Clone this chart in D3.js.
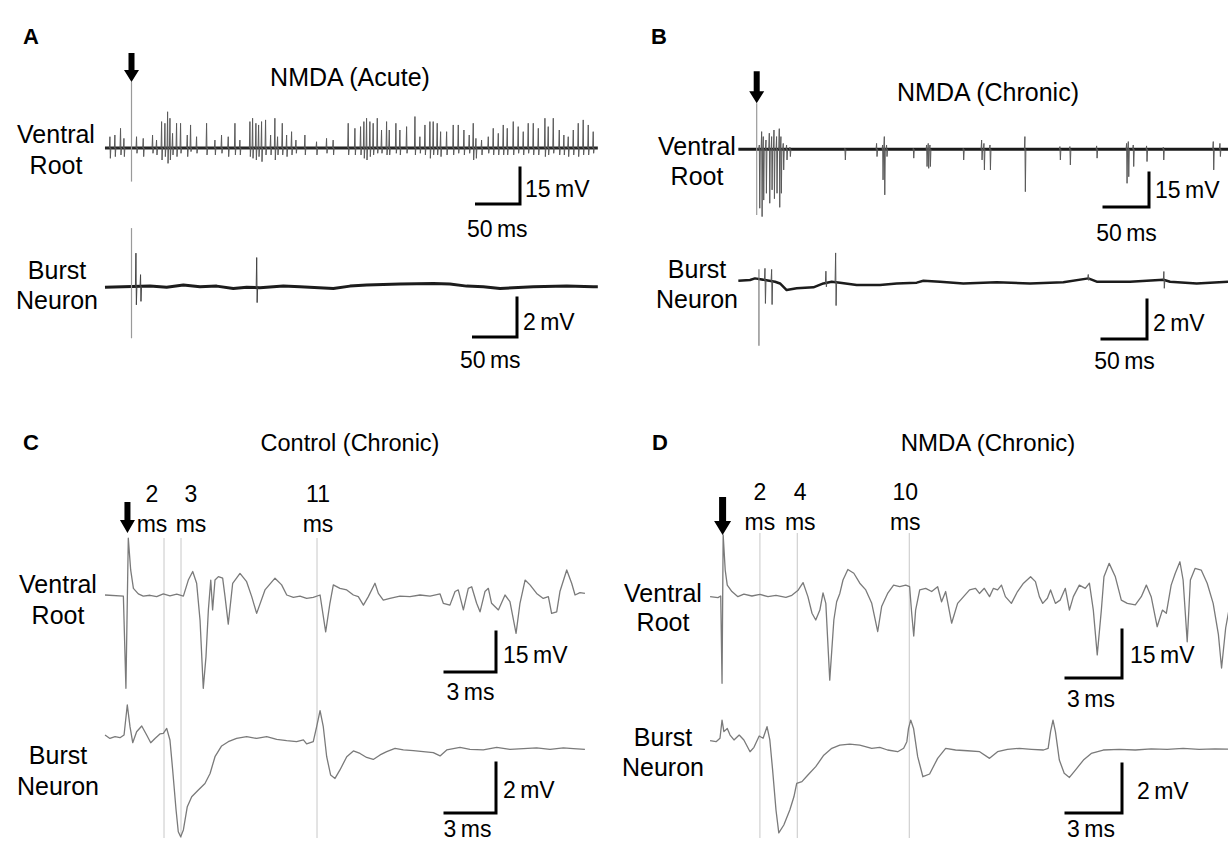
<!DOCTYPE html>
<html><head><meta charset="utf-8">
<script src="https://cdn.jsdelivr.net/npm/d3@7"></script>
<style>
html,body{margin:0;padding:0;background:#fff;}
svg{display:block;font-family:Arial,"Liberation Sans",sans-serif;}
</style></head><body>
<svg id="fig" width="1228" height="842"></svg>
<script>
// ===================== recorded data =====================
// Panels A/B: long sweeps. Spikes are [time (ms), peak (mV), trough (mV)] relative to the baseline.
// Baselines are [time (ms), mV] drift points.

// A — NMDA (Acute)
const aVentralBase = [[-30.5,0],[536,0]];
const aVentralStim = [0, 27.5, -14];
const aVentralSpikes = [
  [-24.7,4.7,-4.3],[-19.0,5.4,-3.6],[-12.5,8.2,-2.9],[-8.6,4.0,-3.6],[5.9,4.7,-2.2],[13.6,4.0,-3.6],
  [24.3,5.4,-2.2],[28.9,3.3,-2.9],[34.7,11.0,-5.0],[38.5,10.3,-3.6],[41.6,15.1,-6.4],[44.3,12.4,-5.0],
  [47.3,6.1,-2.9],[51.9,10.3,-3.6],[56.5,10.3,-2.2],[64.2,5.4,-3.6],[68.0,9.6,-1.5],[74.9,4.7,-2.2],
  [86.4,10.3,-2.9],[96.0,3.3,-2.9],[103.6,5.4,-2.2],[111.3,4.7,-3.6],[119.0,10.3,-2.9],[124.7,3.3,-2.9],
  [136.2,11.0,-3.6],[139.3,12.4,-4.3],[143.1,10.3,-5.0],[146.2,9.6,-3.6],[149.6,11.0,-5.7],[154.2,11.7,-2.9],
  [160.0,5.4,-2.9],[164.9,12.4,-5.0],[168.0,4.7,-2.9],[173.4,10.3,-2.9],[178.4,5.4,-3.6],[184.1,6.8,-2.9],
  [189.1,3.3,-2.2],[199.4,5.4,-2.9],[212.8,2.6,-2.9],[224.3,4.0,-2.2],[231.9,3.3,-2.9],[249.2,10.3,-2.9],
  [256.9,8.2,-2.9],[263.4,8.9,-2.9],[267.2,11.0,-4.3],[270.3,12.4,-5.0],[274.1,11.0,-3.6],[277.9,10.3,-2.9],
  [282.6,12.4,-2.2],[287.5,7.5,-2.2],[293.3,11.0,-2.9],[296.4,7.5,-2.9],[304.0,10.3,-2.2],[308.6,7.5,-2.9],
  [316.3,8.9,-2.2],[325.9,13.1,-2.9],[331.6,4.7,-2.2],[337.4,9.6,-2.9],[343.1,11.0,-4.3],[346.9,11.0,-2.9],
  [351.5,10.3,-2.9],[355.4,6.8,-3.6],[362.3,6.8,-2.9],[369.9,9.6,-2.9],[375.7,9.6,-2.2],[382.2,7.5,-2.9],
  [388.3,5.4,-2.2],[392.9,10.3,-5.0],[396.0,4.0,-4.3],[402.5,3.3,-2.9],[410.2,4.7,-2.2],[415.9,8.2,-2.9],
  [421.7,6.1,-2.9],[427.4,9.6,-2.9],[432.0,8.2,-2.9],[438.9,11.0,-2.9],[444.6,8.9,-2.2],[450.4,6.8,-2.9],
  [456.1,10.3,-2.2],[461.9,10.3,-2.9],[467.7,8.2,-2.9],[475.3,12.4,-3.6],[479.1,8.9,-2.9],[484.9,12.4,-2.2],
  [491.8,7.5,-2.9],[497.1,5.4,-2.9],[502.1,4.7,-3.6],[507.9,7.5,-2.9],[513.6,10.3,-3.6],[519.3,11.7,-2.9],
  [525.1,9.6,-2.9],[530.8,6.8,-2.2]
];
const aBurstBase = [
  [-30.5,-0.03],[21.3,0.03],[40.4,-0.03],[59.6,0.09],[78.7,0],[97.9,0.03],[117,-0.09],[132.4,-0.03],
  [147.7,-0.05],[174.5,0.03],[193.7,0],[232,-0.09],[251.1,0.03],[270.3,0.09],[308.6,0.14],[346.9,0.17],
  [366,0.14],[385.2,0.03],[404.4,0],[423.6,-0.09],[461.9,0],[500.2,0.03],[530.8,0],[536,0]
];
const aBurstStim = [0, 3.0, -2.65];
const aBurstSpikes = [[5.2,1.71,-0.94],[10.5,0.6,-0.77],[144,1.54,-0.77]];

// B — NMDA (Chronic)
const bVentralBase = [[-20.4,0],[523.7,0]];
const bVentralStim = [0, 20.3, -29.0];
const bVentralSpikes = [
  [3.0,1.9,-26.0],[5.6,7.8,-29.7],[7.4,5.6,-22.4],[10.4,4.1,-19.4],[14.1,7.1,-23.8],[16.7,5.6,-17.9],
  [19.3,8.5,-21.8],[22.2,5.6,-19.4],[25.2,9.1,-25.6],[27.0,5.6,-19.4],[29.6,2.6,-9.1],[33.3,1.9,-4.7],
  [37.0,0.9,-3.2],[98.1,0.4,-4.7],[133.3,2.6,-3.2],[140.0,1.9,-13.5],[141.9,5.6,-20.1],[144.4,1.9,-3.2],
  [174.1,0.4,-3.9],[188.9,1.9,-7.6],[190.7,2.6,-8.4],[192.6,1.9,-7.6],[229.6,0.4,-4.7],[250.0,4.1,-4.7],
  [252.6,2.6,-9.1],[259.3,1.9,-9.1],[298.1,5.6,-18.7],[337.0,1.2,-4.7],[348.1,1.2,-6.9],[377.8,1.5,-3.9],
  [411.1,2.6,-15.0],[413.0,3.4,-12.1],[418.5,1.9,-7.6],[433.3,1.5,-5.4],[451.9,0.9,-4.7],[507.4,3.4,-9.1],
  [514.8,2.6,-3.2]
];
const bBurstBase = [
  [-20.4,0.05],[-7.4,0.09],[-1.9,0.17],[20.4,0],[25.9,-0.09],[33.3,-0.43],[44.4,-0.34],[63,-0.29],
  [74.1,-0.09],[83.3,0],[92.6,-0.05],[111.1,-0.17],[137,-0.17],[155.6,-0.09],[177.8,-0.05],[185.2,0.05],
  [203.7,0],[229.6,-0.09],[266.7,-0.03],[303.7,-0.09],[340.7,-0.03],[368.5,0.17],[377.8,0],[414.8,0],
  [451.9,0.1],[459.3,0],[488.9,-0.09],[523.7,0]
];
const bBurstStim = [2.5, 0.5, -3.42];
const bBurstSpikes = [[9.3,0.6,-1.2],[16.7,0.6,-1.2],[77.0,0.6,-0.2],[87.8,1.5,-1.2],[368.5,0.2,-0.1],[452.5,0.43,-0.43]];

// C — Control (Chronic): [time (ms), mV]
const cVentral = [
  [-1.47,0],[-0.39,-0.4],[-0.24,-35],[-0.1,21.3],[0.04,9.4],[0.2,2.5],[0.49,0.4],[0.78,-0.4],[1.18,-0.1],
  [1.57,-0.6],[1.96,0.4],[2.35,-0.3],[2.75,0.3],[3.14,-0.4],[3.43,5.6],[3.69,8.8],[3.92,4.4],[4.12,-9.4],
  [4.31,-35],[4.47,-23.1],[4.61,-5.6],[4.75,5.6],[4.86,-5.6],[5.0,5.6],[5.2,6.9],[5.45,6.3],[5.59,-0.6],
  [5.78,-10.9],[6.04,4.4],[6.47,8.1],[6.86,5],[7.16,-0.6],[7.45,-6.9],[7.94,1.9],[8.53,6.3],[8.92,3.8],
  [9.22,0],[9.61,-0.9],[10.0,-0.4],[10.39,-1.3],[10.78,-0.9],[11.18,0],[11.51,-13.8],[11.76,-3.1],
  [11.96,3.8],[12.35,2.5],[12.75,1.9],[13.14,0],[13.43,-0.6],[13.73,-3.8],[14.02,-0.6],[14.41,4.4],
  [14.61,0.6],[14.9,-1.9],[15.29,-1.3],[15.88,-0.4],[16.47,-0.6],[17.06,0],[17.65,-0.4],[18.24,0.4],
  [18.43,-3.1],[18.82,-3.8],[19.12,1.3],[19.31,1.9],[19.61,-5.6],[19.9,2.5],[20.1,3.1],[20.39,-3.1],
  [20.59,-6.3],[20.88,1.3],[21.08,2.5],[21.27,-3.1],[21.67,-5.6],[22.06,0],[22.35,-2.5],[22.71,-14.4],
  [22.94,-3.1],[23.24,5.6],[23.53,3.8],[23.92,0.6],[24.31,-1.3],[24.61,-0.6],[24.8,-6.9],[25.1,-6.3],
  [25.29,1.3],[25.69,9.4],[25.98,4.4],[26.18,0],[26.47,0.9],[26.76,0.6]
];
const cBurst = [
  [-1.47,0.07],[-1.18,-0.07],[-0.88,0],[-0.59,-0.04],[-0.35,0.07],[-0.16,1.27],[0,0.4],[0.16,-0.24],
  [0.39,0.2],[0.69,0.43],[0.98,0.07],[1.22,-0.24],[1.47,-0.07],[1.76,0.11],[1.96,0.13],[2.16,0.33],
  [2.35,-0.13],[2.51,-1.33],[2.71,-2.93],[2.84,-3.8],[2.98,-4.0],[3.14,-3.73],[3.37,-2.8],[3.63,-2.4],
  [4.02,-2.13],[4.41,-1.87],[4.71,-1.47],[5.0,-0.8],[5.39,-0.37],[5.78,-0.2],[6.27,-0.07],[6.86,0],
  [7.45,-0.07],[8.04,0],[8.63,-0.11],[9.22,-0.16],[9.8,-0.2],[10.2,-0.13],[10.39,-0.29],[10.78,-0.2],
  [10.98,0.4],[11.18,1.04],[11.37,0.4],[11.57,-0.8],[11.8,-1.53],[12.06,-1.67],[12.35,-1.33],[12.75,-0.8],
  [13.14,-0.57],[13.53,-0.67],[13.92,-0.83],[14.31,-0.91],[14.71,-0.73],[15.1,-0.6],[15.59,-0.47],
  [16.08,-0.53],[16.67,-0.56],[17.25,-0.6],[17.84,-0.64],[18.24,-0.77],[18.63,-0.53],[19.41,-0.43],
  [20.0,-0.51],[20.78,-0.53],[21.57,-0.43],[22.35,-0.51],[23.14,-0.48],[23.92,-0.45],[24.71,-0.51],
  [25.49,-0.45],[26.08,-0.48],[26.76,-0.51]
];
const cStimTime = -0.15;
const cLatencies = [2, 3, 11];

// D — NMDA (Chronic)
const dVentral = [
  [-0.67,-0.2],[-0.25,-0.5],[-0.1,0],[-0.03,-27.3],[0.03,19.1],[0.14,8.1],[0.25,3.4],[0.5,1.4],[0.82,-0.2],
  [1.14,0.6],[1.57,0],[2.0,0.5],[2.43,-0.2],[2.86,0.2],[3.39,-0.4],[3.71,0.2],[4.03,1.7],[4.31,4.2],
  [4.57,-0.2],[4.79,-5.4],[4.99,-7.5],[5.21,-4.4],[5.38,1.0],[5.53,-2.3],[5.74,-26.3],[5.96,-7.5],
  [6.11,-1.8],[6.28,0.8],[6.45,5],[6.71,8.3],[7.03,7.1],[7.35,4.0],[7.67,1.9],[7.99,-2.3],[8.31,-11.1],
  [8.52,-3.3],[8.84,0.8],[9.16,3.4],[9.49,2.9],[9.81,3.4],[10.02,2.9],[10.13,-5.4],[10.24,-12.5],
  [10.34,-4.4],[10.56,1.9],[10.88,2.4],[11.2,1.4],[11.52,2.9],[11.73,-1.8],[11.95,1.4],[12.27,-8.5],
  [12.59,-2.3],[12.91,-0.2],[13.23,1.9],[13.55,2.4],[13.76,0.8],[14.02,2.4],[14.3,-0.2],[14.51,2.4],
  [14.73,1.9],[14.94,3.4],[15.15,-0.2],[15.47,-2.3],[15.8,1.4],[16.12,4],[16.5,6],[16.76,4.5],
  [16.97,-0.2],[17.15,-2.3],[17.4,-0.7],[17.57,1.9],[17.83,-2.3],[18.08,-1.3],[18.36,2.4],[18.58,-4.4],
  [18.79,-0.2],[19.11,3.4],[19.43,2.4],[19.65,4],[19.86,-4.4],[20.07,-18.4],[20.29,-4.4],[20.43,6],
  [20.71,10.2],[21.04,6],[21.36,-1.3],[21.68,-2.3],[22.11,-2.8],[22.43,-0.2],[22.7,3.4],[22.96,-0.2],
  [23.28,-9.6],[23.56,-4.4],[23.77,-5.4],[24.03,3.4],[24.25,7.1],[24.5,10.7],[24.67,5],[24.89,-14.3],
  [25.06,5],[25.31,8.6],[25.64,8.1],[25.96,4],[26.28,-2.3],[26.56,-12],[26.73,-22.5],[26.95,-10],[27.2,-2]
];
const dBurst = [
  [-0.67,0],[-0.35,-0.04],[-0.14,0.1],[-0.03,0.84],[0.07,0.37],[0.25,0.5],[0.4,0.23],[0.61,0.03],
  [0.89,0.23],[1.14,0.03],[1.47,-0.45],[1.68,-0.27],[1.96,0.19],[2.17,0.1],[2.38,0.57],[2.53,0.03],
  [2.68,-1.2],[2.86,-2.83],[3.01,-3.76],[3.28,-3.44],[3.6,-2.83],[3.82,-2.29],[3.97,-1.74],[4.25,-1.67],
  [4.57,-1.4],[4.99,-1.06],[5.42,-0.59],[5.85,-0.31],[6.28,-0.18],[6.81,-0.14],[7.35,-0.18],[7.99,-0.31],
  [8.42,-0.27],[8.84,-0.38],[9.38,-0.45],[9.7,-0.31],[9.87,-0.04],[9.96,0.5],[10.08,0.84],[10.23,0.5],
  [10.45,-0.65],[10.73,-1.47],[11.09,-1.36],[11.52,-0.72],[11.95,-0.31],[12.48,-0.38],[13.12,-0.41],
  [13.77,-0.45],[14.3,-0.72],[14.73,-0.45],[15.26,-0.35],[15.9,-0.31],[16.55,-0.35],[17.19,-0.38],
  [17.44,-0.31],[17.57,0.37],[17.7,0.84],[17.83,0.37],[18.04,-0.79],[18.3,-1.33],[18.58,-1.5],[18.9,-1.2],
  [19.33,-0.79],[19.75,-0.52],[20.39,-0.38],[21.25,-0.35],[22.11,-0.38],[22.96,-0.33],[23.82,-0.35],
  [24.67,-0.31],[25.53,-0.35],[26.38,-0.33],[27.2,-0.35]
];
const dStimTime = 0;
const dLatencies = [2, 4, 10];

// Scale-bar values
const msBarLong = 50, msBarShort = 3, mvBarVR = 15, mvBarBN = 2;

// ===================== layout =====================
const svg = d3.select('#fig');
const FONT = 'Arial, "Liberation Sans", sans-serif';

function xScale(origin, barMs, barPx){ return d3.scaleLinear().domain([0, barMs]).range([origin, origin + barPx]); }
function yScale(base, barMv, barPx){ return d3.scaleLinear().domain([0, barMv]).range([base, base - barPx]); }

const P = {
  A: { x: xScale(131.5, msBarLong, 43.5),
       vy: yScale(148, mvBarVR, 36), by: yScale(286.7, mvBarBN, 39) },
  B: { x: xScale(756.7, msBarLong, 45),
       vy: yScale(149.3, mvBarVR, 34), by: yScale(281.7, mvBarBN, 39) },
  C: { x: xScale(130, msBarShort, 51),
       vy: yScale(595, mvBarVR, 40), by: yScale(736.7, mvBarBN, 50) },
  D: { x: xScale(722.6, msBarShort, 56),
       vy: yScale(596, mvBarVR, 48), by: yScale(740.7, mvBarBN, 49) }
};

// ---------- helpers ----------
function baseAt(base, t){
  for (let i = 1; i < base.length; i++){
    if (t <= base[i][0]){
      const a = base[i-1], b = base[i];
      const f = (t - a[0]) / (b[0] - a[0]);
      return a[1] + f * (b[1] - a[1]);
    }
  }
  return base[base.length-1][1];
}

function spikeTrain(g, xs, ys, base, spikes, stim, o){
  const ln = d3.line().x(d => xs(d[0])).y(d => ys(d[1]));
  const spikeLine = s => {
    const b = baseAt(base, s[0]);
    return ln([[s[0]-0.7, b], [s[0]-0.1, b + s[1]], [s[0]+0.4, b + s[2]], [s[0]+1.0, b]]);
  };
  g.append('path').attr('d', ln(base)).attr('fill','none')
    .attr('stroke', o.baseColor).attr('stroke-width', o.baseWidth).attr('stroke-linejoin','round');
  g.selectAll(null).data(spikes).enter().append('path')
    .attr('d', spikeLine).attr('fill','none')
    .attr('stroke', o.spikeColor).attr('stroke-width', o.spikeWidth);
  if (stim){
    const b = baseAt(base, stim[0]);
    g.append('path').attr('d', ln([[stim[0], b + stim[1]], [stim[0], b + stim[2]]]))
      .attr('stroke', o.stimColor).attr('stroke-width', 1.2).attr('fill','none');
  }
}

function trace(g, xs, ys, data, color, width){
  g.append('path').datum(data)
    .attr('d', d3.line().x(d => xs(d[0])).y(d => ys(d[1])))
    .attr('fill','none').attr('stroke', color).attr('stroke-width', width)
    .attr('stroke-linejoin','round');
}

function arrow(g, x, tipY, len, shaftW, headW, headH){
  const p = d3.path();
  p.moveTo(x - shaftW/2, tipY - len);
  p.lineTo(x + shaftW/2, tipY - len);
  p.lineTo(x + shaftW/2, tipY - headH);
  p.lineTo(x + headW/2, tipY - headH);
  p.lineTo(x, tipY);
  p.lineTo(x - headW/2, tipY - headH);
  p.lineTo(x - shaftW/2, tipY - headH);
  p.closePath();
  g.append('path').attr('d', p.toString()).attr('fill', '#000');
}

function scaleBar(g, xs, ys, cx, cy, msVal, mvVal, msLabel, mvLabel, o){
  const hl = xs(msVal) - xs(0), vl = ys(0) - ys(mvVal);
  g.append('path')
    .attr('d', `M${cx - hl},${cy}H${cx}V${cy - vl}`)
    .attr('fill','none').attr('stroke','#000').attr('stroke-width', 3)
    .attr('stroke-linecap','square');
  g.append('text').attr('x', cx + o.vdx).attr('y', cy - vl/2 + o.vdy)
    .attr('font-size', 23).attr('word-spacing', -2).text(mvLabel);
  g.append('text').attr('x', cx - hl/2 + o.hdx).attr('y', cy + o.hdy)
    .attr('text-anchor','middle').attr('font-size', 23).attr('word-spacing', -2).text(msLabel);
}

function label(g, x, y, lines, dy){
  lines.forEach((s, i) => g.append('text').attr('x', x).attr('y', y + i*dy)
    .attr('text-anchor','middle').attr('font-size', 25).text(s));
}

const root = svg.append('g').attr('font-family', FONT).attr('fill', '#000');

// ---------- panel letters & titles ----------
[['A',23,44],['B',651,44],['C',23,450],['D',652,450]].forEach(([t,x,y]) =>
  root.append('text').attr('x',x).attr('y',y).attr('font-size',22).attr('font-weight','bold').text(t));
[['NMDA (Acute)',350,86,25],['NMDA (Chronic)',988,101,25],['Control (Chronic)',350,451,23.5],['NMDA (Chronic)',988,451,24]]
  .forEach(([t,x,y,fs]) => root.append('text').attr('x',x).attr('y',y).attr('text-anchor','middle')
    .attr('font-size',fs).text(t));

// ---------- Panel A ----------
{
  const g = root.append('g'), p = P.A;
  label(g, 56, 143, ['Ventral','Root'], 31);
  label(g, 57, 279, ['Burst','Neuron'], 30);
  spikeTrain(g, p.x, p.by, aBurstBase, aBurstSpikes, aBurstStim,
    {baseColor:'#1c1c1c', baseWidth:3, spikeColor:'#444', spikeWidth:1, stimColor:'#9a9a9a'});
  spikeTrain(g, p.x, p.vy, aVentralBase, aVentralSpikes, aVentralStim,
    {baseColor:'#262626', baseWidth:2.8, spikeColor:'#5a5a5a', spikeWidth:1, stimColor:'#9a9a9a'});
  arrow(g, p.x(0), p.vy(aVentralStim[1]), 29, 6, 15, 12);
  scaleBar(g, p.x, p.vy, 520, 204, msBarLong, mvBarVR, '50 ms', '15 mV', {vdx:5, vdy:11, hdx:-1, hdy:33});
  scaleBar(g, p.x, p.by, 517, 337, msBarLong, mvBarBN, '50 ms', '2 mV', {vdx:6, vdy:12, hdx:-5, hdy:31});
}

// ---------- Panel B ----------
{
  const g = root.append('g'), p = P.B;
  label(g, 697, 155, ['Ventral','Root'], 30);
  label(g, 697, 278, ['Burst','Neuron'], 30);
  spikeTrain(g, p.x, p.by, bBurstBase, bBurstSpikes, bBurstStim,
    {baseColor:'#1c1c1c', baseWidth:2.5, spikeColor:'#555', spikeWidth:1, stimColor:'#777'});
  spikeTrain(g, p.x, p.vy, bVentralBase, bVentralSpikes, bVentralStim,
    {baseColor:'#1a1a1a', baseWidth:3, spikeColor:'#5a5a5a', spikeWidth:1, stimColor:'#9a9a9a'});
  arrow(g, p.x(0), p.vy(bVentralStim[1]), 32, 6, 15, 12);
  scaleBar(g, p.x, p.vy, 1149, 207, msBarLong, mvBarVR, '50 ms', '15 mV', {vdx:6, vdy:8, hdx:0, hdy:34});
  scaleBar(g, p.x, p.by, 1147, 339, msBarLong, mvBarBN, '50 ms', '2 mV', {vdx:6, vdy:11, hdx:0, hdy:30});
}

// ---------- Panel C ----------
{
  const g = root.append('g'), p = P.C;
  label(g, 58, 593, ['Ventral','Root'], 31);
  label(g, 58, 764, ['Burst','Neuron'], 31);
  g.selectAll(null).data(cLatencies).enter().append('line')
    .attr('x1', d => p.x(d)).attr('x2', d => p.x(d)).attr('y1', 538).attr('y2', 838)
    .attr('stroke', '#c8c8c8').attr('stroke-width', 1);
  const latText = [[cLatencies[0], -12], [cLatencies[1], 10], [cLatencies[2], 1]];
  latText.forEach(([v, dx]) => {
    g.append('text').attr('x', p.x(v) + dx).attr('y', 502).attr('text-anchor','middle').attr('font-size',23).text(v);
    g.append('text').attr('x', p.x(v) + dx).attr('y', 532).attr('text-anchor','middle').attr('font-size',23).text('ms');
  });
  trace(g, p.x, p.vy, cVentral, '#7a7a7a', 1.3);
  trace(g, p.x, p.by, cBurst, '#7a7a7a', 1.3);
  arrow(g, p.x(cStimTime), 533, 31, 6, 15, 13);
  scaleBar(g, p.x, p.vy, 496, 672, msBarShort, mvBarVR, '3 ms', '15 mV', {vdx:7, vdy:11, hdx:0, hdy:28});
  scaleBar(g, p.x, p.by, 496, 813, msBarShort, mvBarBN, '3 ms', '2 mV', {vdx:7, vdy:10, hdx:-3, hdy:24});
}

// ---------- Panel D ----------
{
  const g = root.append('g'), p = P.D;
  label(g, 663, 602, ['Ventral','Root'], 29);
  label(g, 663, 746, ['Burst','Neuron'], 30);
  g.selectAll(null).data(dLatencies).enter().append('line')
    .attr('x1', d => p.x(d)).attr('x2', d => p.x(d)).attr('y1', 533).attr('y2', 838)
    .attr('stroke', '#c8c8c8').attr('stroke-width', 1);
  const latText = [[dLatencies[0], 0], [dLatencies[1], 3], [dLatencies[2], -4]];
  latText.forEach(([v, dx]) => {
    g.append('text').attr('x', p.x(v) + dx).attr('y', 500).attr('text-anchor','middle').attr('font-size',23).text(v);
    g.append('text').attr('x', p.x(v) + dx).attr('y', 530).attr('text-anchor','middle').attr('font-size',23).text('ms');
  });
  trace(g, p.x, p.vy, dVentral, '#7a7a7a', 1.3);
  trace(g, p.x, p.by, dBurst, '#7a7a7a', 1.3);
  arrow(g, p.x(dStimTime), 535, 38, 7, 17, 14);
  scaleBar(g, p.x, p.vy, 1122, 678, msBarShort, mvBarVR, '3 ms', '15 mV', {vdx:8, vdy:9, hdx:-3, hdy:29});
  scaleBar(g, p.x, p.by, 1122, 813, msBarShort, mvBarBN, '3 ms', '2 mV', {vdx:15, vdy:10, hdx:-3, hdy:24});
}
</script>
</body></html>
